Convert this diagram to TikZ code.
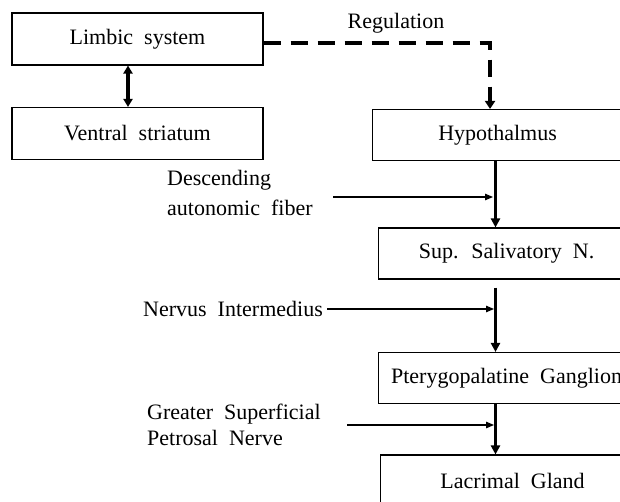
\documentclass[tikz,border=0pt]{standalone}
\usepackage{fontspec}
\setmainfont{Liberation Serif}[WordSpace=2]
\usetikzlibrary{arrows.meta}
\begin{document}
\begin{tikzpicture}[x=1pt,y=-1pt,
  font=\fontsize{22}{26}\selectfont,
  lbox/.style={draw,line width=1.1pt,minimum width=251pt,minimum height=52pt,inner sep=0pt},
  rbox/.style={draw,line width=1.1pt,minimum width=256pt,minimum height=51pt,inner sep=0pt,anchor=west},
  vert/.style={line width=3.2pt,-{Triangle[length=9pt,width=9pt]}},
  hor/.style={line width=1.3pt,-{Triangle[length=8pt,width=6.5pt]}},
  dbl/.style={line width=3.2pt,{Triangle[length=8pt,width=9pt]}-{Triangle[length=8pt,width=9pt]}},
  dsh/.style={line width=3.6pt,dash pattern=on 17pt off 10pt,-{Triangle[length=8pt,width=10pt]}},
  lbl/.style={inner sep=0pt,align=left}]
\useasboundingbox (0,0) rectangle (620,502);
\clip (0,0) rectangle (620,502);
% left boxes
\node[lbox] (limbic) at (137.5,39) {Limbic system};
\node[lbox] (ventral) at (137.5,133.5) {Ventral striatum};
% right boxes
\node[rbox,minimum width=250pt] (hyp) at (372,135) {Hypothalmus};
\node[rbox] (sup) at (378,253.5) {Sup. Salivatory N.};
\node[rbox,minimum width=256pt] (pter) at (378,378) {Pterygopalatine Ganglion};
\node[rbox,minimum width=264pt,minimum height=52pt] (lac) at (380,481) {Lacrimal Gland};
% labels
\node (reg) at (396,23) {Regulation};
\node[lbl,anchor=west,font=\fontsize{22}{30}\selectfont] (desc) at (167,193) {Descending\\autonomic fiber};
\node[lbl,anchor=west] (ni) at (143,309) {Nervus Intermedius};
\node[lbl,anchor=west,font=\fontsize{22}{26}\selectfont] (gsp) at (147,425) {Greater Superficial\\Petrosal Nerve};
% helper coordinates
\coordinate (vx) at (495.5,0);
\coordinate (dx) at (490,0);
\coordinate (s1) at (333,197);
\coordinate (s2) at (327,309);
\coordinate (s3) at (347,425);
\coordinate (e1) at (493,197);
\coordinate (e2) at (494,309);
\coordinate (e3) at (494,425);
% connectors
\draw[dbl] (limbic.south) ++(-9.5,0) coordinate (da) -- (ventral.north -| da);
\draw[dsh] ([yshift=-4pt]limbic.east) -| (hyp.north -| dx);
\draw[vert] (hyp.south -| vx) -- (sup.north -| vx);
\draw[vert] ([yshift=-8pt]sup.south -| vx) -- (pter.north -| vx);
\draw[vert] (pter.south -| vx) -- (lac.north -| vx);
\draw[hor] (s1) -- (e1);
\draw[hor] (s2) -- (e2);
\draw[hor] (s3) -- (e3);
\end{tikzpicture}
\end{document}
